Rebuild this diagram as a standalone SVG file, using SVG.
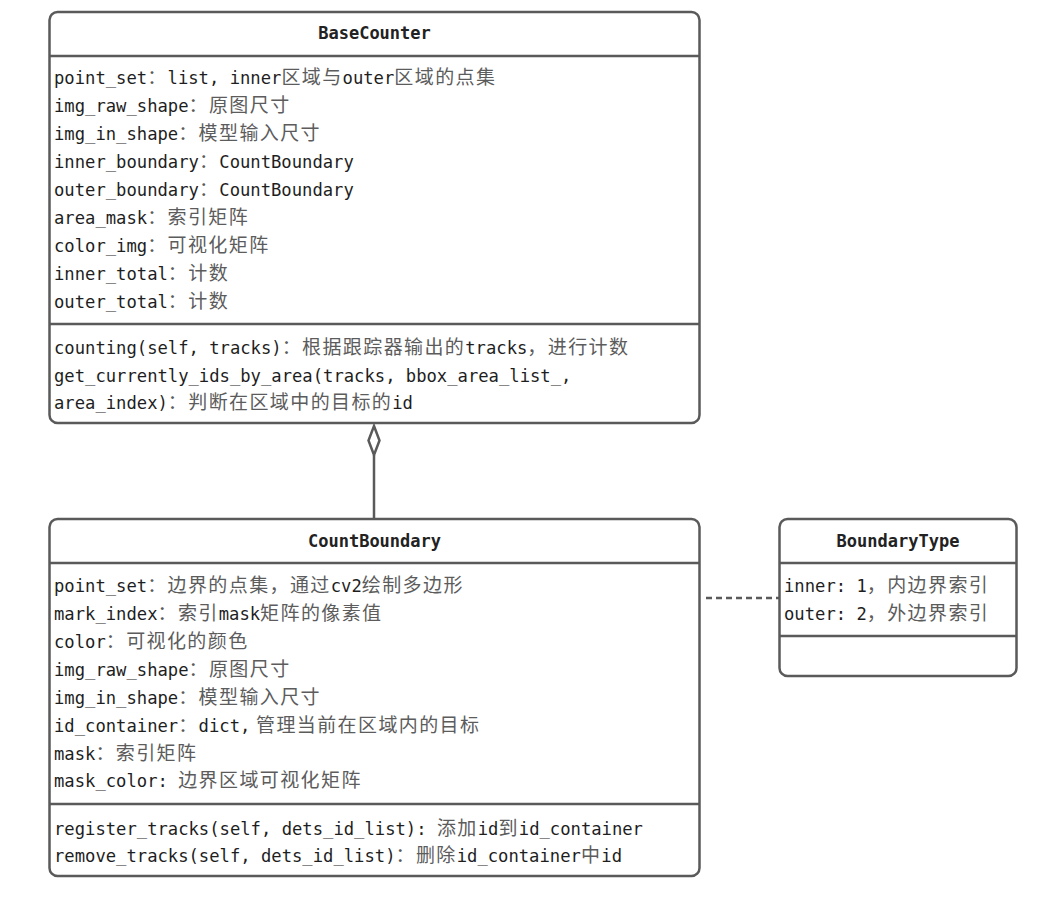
<svg xmlns="http://www.w3.org/2000/svg" width="1041" height="900" viewBox="0 0 1041 900">
  <style>
    .box { fill: #ffffff; stroke: #5a5a5a; stroke-width: 2.5; }
    .sep { stroke: #5a5a5a; stroke-width: 2.5; fill: none; }
    .title { font-family: "DejaVu Sans Mono", "Liberation Mono", monospace; font-size: 17px; font-weight: bold; fill: #222222; text-anchor: middle; }
    .t { font-family: "DejaVu Sans Mono", "Liberation Mono", "Noto Sans CJK SC", monospace; font-size: 17.2px; fill: #1e1e1e; }
    .z { font-family: "Noto Sans CJK SC", sans-serif; font-size: 19px; letter-spacing: 1.4px; fill: #5c5c5c; }
    .conn { stroke: #5a5a5a; stroke-width: 2.5; fill: none; }
  </style>
  <rect width="1041" height="900" fill="#ffffff"/>

  <!-- connectors -->
  <g id="connectors">
    <!-- aggregation: CountBoundary is part of BaseCounter -->
    <line class="conn" x1="374" y1="455" x2="374" y2="519"/>
    <polygon points="374,426 379.5,440.5 374,455 368.5,440.5" fill="#ffffff" stroke="#5a5a5a" stroke-width="2.5"/>
    <!-- dependency on BoundaryType -->
    <line class="conn" x1="706" y1="598" x2="779" y2="598" stroke-dasharray="6 4"/>
  </g>

  <!-- BaseCounter -->
  <g id="BaseCounter">
    <rect class="box" x="49.5" y="12" width="650" height="411" rx="8"/>
    <line class="sep" x1="49.5" y1="56" x2="699.5" y2="56"/>
    <line class="sep" x1="49.5" y1="324" x2="699.5" y2="324"/>
    <text class="title" x="374.5" y="39">BaseCounter</text>
    <text class="t" x="54" y="84">point_set<tspan class="z">：</tspan>list, inner<tspan class="z">区域与</tspan>outer<tspan class="z">区域的点集</tspan></text>
    <text class="t" x="54" y="112">img_raw_shape<tspan class="z">：原图尺寸</tspan></text>
    <text class="t" x="54" y="140">img_in_shape<tspan class="z">：模型输入尺寸</tspan></text>
    <text class="t" x="54" y="168">inner_boundary<tspan class="z">：</tspan>CountBoundary</text>
    <text class="t" x="54" y="196">outer_boundary<tspan class="z">：</tspan>CountBoundary</text>
    <text class="t" x="54" y="224">area_mask<tspan class="z">：索引矩阵</tspan></text>
    <text class="t" x="54" y="252">color_img<tspan class="z">：可视化矩阵</tspan></text>
    <text class="t" x="54" y="280">inner_total<tspan class="z">：计数</tspan></text>
    <text class="t" x="54" y="308">outer_total<tspan class="z">：计数</tspan></text>
    <text class="t" x="54" y="354">counting(self, tracks)<tspan class="z">：根据跟踪器输出的</tspan>tracks<tspan class="z">，进行计数</tspan></text>
    <text class="t" x="54" y="382">get_currently_ids_by_area(tracks, bbox_area_list_,</text>
    <text class="t" x="54" y="409">area_index)<tspan class="z">：判断在区域中的目标的</tspan>id</text>
  </g>

  <!-- CountBoundary -->
  <g id="CountBoundary">
    <rect class="box" x="49.5" y="519" width="650" height="357" rx="8"/>
    <line class="sep" x1="49.5" y1="563" x2="699.5" y2="563"/>
    <line class="sep" x1="49.5" y1="804" x2="699.5" y2="804"/>
    <text class="title" x="374.5" y="547">CountBoundary</text>
    <text class="t" x="54" y="592">point_set<tspan class="z">：边界的点集，通过</tspan>cv2<tspan class="z">绘制多边形</tspan></text>
    <text class="t" x="54" y="620">mark_index<tspan class="z">：索引</tspan>mask<tspan class="z">矩阵的像素值</tspan></text>
    <text class="t" x="54" y="648">color<tspan class="z">：可视化的颜色</tspan></text>
    <text class="t" x="54" y="676">img_raw_shape<tspan class="z">：原图尺寸</tspan></text>
    <text class="t" x="54" y="704">img_in_shape<tspan class="z">：模型输入尺寸</tspan></text>
    <text class="t" x="54" y="732">id_container<tspan class="z">：</tspan>dict,<tspan class="z"> 管理当前在区域内的目标</tspan></text>
    <text class="t" x="54" y="760">mask<tspan class="z">：索引矩阵</tspan></text>
    <text class="t" x="54" y="787">mask_color: <tspan class="z">边界区域可视化矩阵</tspan></text>
    <text class="t" x="54" y="835">register_tracks(self, dets_id_list): <tspan class="z">添加</tspan>id<tspan class="z">到</tspan>id_container</text>
    <text class="t" x="54" y="862">remove_tracks(self, dets_id_list)<tspan class="z">：删除</tspan>id_container<tspan class="z">中</tspan>id</text>
  </g>

  <!-- BoundaryType -->
  <g id="BoundaryType">
    <rect class="box" x="779.5" y="519" width="237" height="157" rx="8"/>
    <line class="sep" x1="779.5" y1="563" x2="1016.5" y2="563"/>
    <line class="sep" x1="779.5" y1="636" x2="1016.5" y2="636"/>
    <text class="title" x="898" y="547">BoundaryType</text>
    <text class="t" x="784" y="592">inner: 1<tspan class="z">，内边界索引</tspan></text>
    <text class="t" x="784" y="620">outer: 2<tspan class="z">，外边界索引</tspan></text>
  </g>
</svg>
